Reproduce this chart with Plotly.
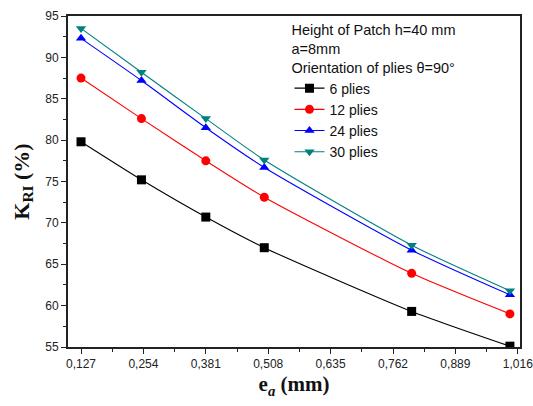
import plotly.graph_objects as go

ea = [0.127, 0.25, 0.381, 0.5, 0.8, 1.0]
k_6 = [79.8, 75.2, 70.7, 67.0, 59.3, 55.1]
k_12 = [87.5, 82.6, 77.5, 73.1, 63.9, 59.0]
k_24 = [92.3, 87.2, 81.5, 76.7, 66.7, 61.3]
k_30 = [93.5, 88.2, 82.6, 77.6, 67.3, 61.8]

series = [
    ("6 plies", k_6, "#000000", "square"),
    ("12 plies", k_12, "#FF0000", "circle"),
    ("24 plies", k_24, "#0000FF", "triangle-up"),
    ("30 plies", k_30, "#008080", "triangle-down"),
]

x_ticks = [0.127, 0.254, 0.381, 0.508, 0.635, 0.762, 0.889, 1.016]
x_ticktext = ["0,127", "0,254", "0,381", "0,508", "0,635", "0,762", "0,889", "1,016"]

fig = go.Figure()
for name, vals, color, sym in series:
    fig.add_trace(go.Scatter(
        x=ea, y=vals, name=name, mode="lines+markers",
        line=dict(color=color, width=1.1, shape="spline", smoothing=0.6),
        marker=dict(symbol=sym, size=9, color=color),
    ))

axis_font = dict(family="Liberation Sans, Arial", size=12, color="#222222")
fig.update_layout(
    width=533, height=406,
    margin=dict(l=68, r=13, t=16, b=59, autoexpand=False),
    paper_bgcolor="white", plot_bgcolor="white",
    font=dict(family="Liberation Sans, Arial", size=14, color="#111111"),
    showlegend=True,
    legend=dict(
        x=0.49, y=1.0, xanchor="left", yanchor="top",
        bgcolor="rgba(0,0,0,0)", borderwidth=0,
        font=dict(family="Liberation Sans, Arial", size=14, color="#111111"),
        title=dict(text="Height of Patch h=40 mm<br>a=8mm<br>Orientation of plies θ=90°",
                   font=dict(family="Liberation Sans, Arial", size=14.5, color="#111111"),
                   side="top"),
        tracegroupgap=0, itemwidth=30,
    ),
    xaxis=dict(
        range=[0.1005, 1.0205], automargin=False, ticklabeloverflow="allow",
        tickmode="array", tickvals=x_ticks, ticktext=x_ticktext,
        ticks="outside", ticklen=5, tickwidth=1.2, tickcolor="#222",
        minor=dict(ticks="outside", ticklen=3, tickwidth=1, tickcolor="#222",
                   tickvals=[0.1905, 0.3175, 0.4445, 0.5715, 0.6985, 0.8255, 0.9525]),
        showline=True, linecolor="#222", linewidth=2, mirror=True,
        showgrid=False, zeroline=False, tickfont=axis_font,
        title=dict(text="<b>e<sub><i>a</i></sub> (mm)</b>",
                   font=dict(family="Liberation Serif, Times New Roman", size=21, color="#111"),
                   standoff=6),
    ),
    yaxis=dict(
        range=[55, 95], tickmode="linear", tick0=55, dtick=5, automargin=False,
        ticklabeloverflow="allow",
        ticks="outside", ticklen=5, tickwidth=1.2, tickcolor="#222",
        minor=dict(ticks="outside", ticklen=3, tickwidth=1, tickcolor="#222", dtick=2.5, tick0=55),
        showline=True, linecolor="#222", linewidth=2, mirror=True,
        showgrid=False, zeroline=False, tickfont=axis_font,
        title=dict(text="<b>K<sub>RI</sub> (%)</b>",
                   font=dict(family="Liberation Serif, Times New Roman", size=22, color="#111"),
                   standoff=10),
    ),
)

fig.write_html("out.html", config={"displayModeBar": False},
               post_script="document.body.style.margin='0';")
